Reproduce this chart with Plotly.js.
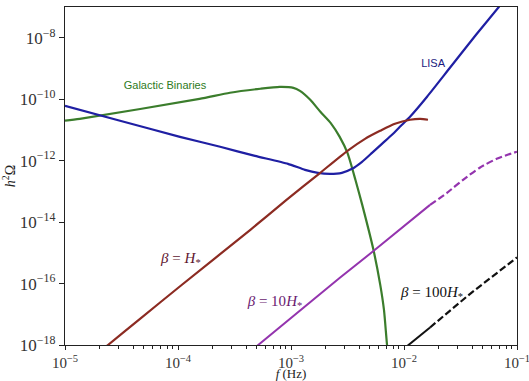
<!DOCTYPE html>
<html>
<head>
<meta charset="utf-8">
<script src="https://cdn.plot.ly/plotly-3.0.1.min.js"></script>
<style>html,body{margin:0;padding:0;background:#fff;}#chart{width:529px;height:381px;}</style>
</head>
<body>
<div id="chart"></div>
<script>
// Galactic binaries foreground
const gbF = [1.0e-5, 1.35e-5, 1.55e-4, 2.88e-4, 5.37e-4, 7.94e-4, 1.05e-3, 1.20e-3, 1.48e-3, 1.82e-3, 2.24e-3, 2.69e-3, 3.16e-3, 3.72e-3, 4.27e-3, 5.37e-3, 6.17e-3, 6.65e-3, 7.08e-3, 7.41e-3];
const gbO = [2.0e-11, 2.29e-11, 1.02e-10, 1.62e-10, 2.19e-10, 2.51e-10, 2.34e-10, 1.86e-10, 9.55e-11, 3.89e-11, 1.70e-11, 6.03e-12, 1.78e-12, 2.34e-13, 3.63e-14, 1.23e-15, 8.9e-17, 1.38e-17, 1.0e-18, 2.5e-19];
// LISA sensitivity
const lisaF = [1.0e-5, 3.07e-5, 1.04e-4, 2.36e-4, 4.80e-4, 9.40e-4, 1.33e-3, 1.73e-3, 2.21e-3, 2.82e-3, 3.47e-3, 4.25e-3, 5.21e-3, 6.38e-3, 7.83e-3, 9.40e-3, 1.13e-2, 1.60e-2, 2.55e-2, 4.34e-2, 6.93e-2, 8.67e-2];
const lisaO = [6.10e-11, 1.98e-11, 5.96e-12, 2.82e-12, 1.43e-12, 7.87e-13, 5.01e-13, 4.01e-13, 3.72e-13, 4.01e-13, 5.41e-13, 9.14e-13, 1.79e-12, 3.52e-12, 6.92e-12, 1.36e-11, 2.67e-11, 1.20e-10, 1.05e-9, 1.25e-8, 1.02e-7, 2.92e-7];
// beta = H*
const b1F = [2.0e-5, 2.40e-5, 4.47e-5, 1.05e-4, 4.37e-4, 9.12e-4, 1.78e-3, 3.16e-3, 4.52e-3, 6.14e-3, 8.32e-3, 1.13e-2, 1.39e-2, 1.63e-2];
const b1O = [5.75e-19, 1.0e-18, 6.46e-18, 8.32e-17, 5.62e-15, 5.25e-14, 3.80e-13, 2.09e-12, 5.13e-12, 9.33e-12, 1.585e-11, 2.14e-11, 2.29e-11, 2.14e-11];
// beta = 10 H*  (solid part, then dashed part)
const b10F = [4.47e-4, 5.13e-4, 9.33e-4, 2.69e-3, 5.50e-3, 9.12e-3, 1.70e-2];
const b10O = [6.6e-19, 1.0e-18, 6.46e-18, 1.51e-16, 1.23e-15, 5.62e-15, 3.63e-14];
const b10dF = [1.70e-2, 2.40e-2, 3.31e-2, 4.68e-2, 6.61e-2, 8.71e-2, 1.0e-1];
const b10dO = [3.63e-14, 8.91e-14, 2.34e-13, 5.89e-13, 1.15e-12, 1.66e-12, 1.95e-12];
// beta = 100 H*
const b100F = [1.0e-2, 1.10e-2, 1.70e-2];
const b100O = [7.6e-19, 1.0e-18, 3.72e-18];
const b100dF = [1.70e-2, 3.80e-2, 1.0e-1];
const b100dO = [3.72e-18, 4.47e-17, 7.08e-16];

// axis ticks
const xTicks = [1e-5, 1e-4, 1e-3, 1e-2, 1e-1];
const xTickText = ['10<sup>−5</sup>', '10<sup>−4</sup>', '10<sup>−3</sup>', '10<sup>−2</sup>', '10<sup>−1</sup>'];
const yTicks = [1e-18, 1e-16, 1e-14, 1e-12, 1e-10, 1e-8];
const yTickText = ['10<sup>−18</sup>', '10<sup>−16</sup>', '10<sup>−14</sup>', '10<sup>−12</sup>', '10<sup>−10</sup>', '10<sup>−8</sup>'];

// curve labels
const labelText = ['Galactic Binaries', 'LISA', '<i>β</i> = <i>H</i><sub>*</sub>', '<i>β</i> = 10<i>H</i><sub>*</sub>', '<i>β</i> = 100<i>H</i><sub>*</sub>'];

const cGreen = '#3b7d2c', cBlue = '#1f1fa3', cRed = '#8c2b22', cPurple = '#9434ae';
const serif = 'Liberation Serif, DejaVu Serif, serif';
const sans = 'Liberation Sans, Arial, sans-serif';

// label placement (position config, not data)
const labelPos = [
  {x: 7.67e-5, y: 2.73e-10, font: {family: sans, size: 11, color: '#2e7a22'}},
  {x: 1.81e-2, y: 1.42e-9, font: {family: sans, size: 11, color: '#1a1a80'}},
  {x: 1.06e-4, y: 6.3e-16, font: {family: serif, size: 15, color: '#5e1530'}},
  {x: 7.21e-4, y: 2.51e-17, font: {family: serif, size: 15, color: '#6a1a70'}},
  {x: 1.77e-2, y: 4.9e-17, font: {family: serif, size: 15, color: '#111111'}}
];

const traces = [
  {x: gbF, y: gbO, mode: 'lines', line: {color: cGreen, width: 2.2, shape: 'spline', smoothing: 0.6}},
  {x: lisaF, y: lisaO, mode: 'lines', line: {color: cBlue, width: 2.2, shape: 'spline', smoothing: 0.5}},
  {x: b1F, y: b1O, mode: 'lines', line: {color: cRed, width: 2.2, shape: 'spline', smoothing: 0.7}},
  {x: b10F, y: b10O, mode: 'lines', line: {color: cPurple, width: 2}},
  {x: b10dF, y: b10dO, mode: 'lines', line: {color: cPurple, width: 2.2, dash: '7px,3px', shape: 'spline', smoothing: 0.6}},
  {x: b100F, y: b100O, mode: 'lines', line: {color: '#111111', width: 2}},
  {x: b100dF, y: b100dO, mode: 'lines', line: {color: '#111111', width: 2.2, dash: '7px,3px'}}
];
labelText.forEach(function (t, i) {
  traces.push({x: [labelPos[i].x], y: [labelPos[i].y], mode: 'text', text: [t],
    textposition: 'middle center', textfont: labelPos[i].font, cliponaxis: false, hoverinfo: 'skip'});
});

const axisCommon = {
  type: 'log', showline: true, linecolor: '#222', linewidth: 1.2, mirror: true,
  ticks: 'outside', ticklen: 5, tickwidth: 1, tickcolor: '#222',
  showgrid: false, zeroline: false, tickmode: 'array', ticklabeloverflow: 'allow',
  tickfont: {family: serif, size: 17, color: '#333'}
};

const layout = {
  width: 529, height: 381,
  margin: {l: 65, r: 12, t: 7, b: 36},
  paper_bgcolor: '#fff', plot_bgcolor: '#fff',
  showlegend: false,
  xaxis: Object.assign({}, axisCommon, {
    range: [-5, -1], tickvals: xTicks, ticktext: xTickText, ticklen: 4,
    tickfont: {family: serif, size: 15, color: '#333'},
    minor: {ticks: 'outside', ticklen: 2.5, tickcolor: '#222', dtick: 'D1', showgrid: false},
    title: {text: '<i>f</i> (Hz)', font: {family: serif, size: 13, color: '#222'}, standoff: 0}
  }),
  yaxis: Object.assign({}, axisCommon, {
    range: [-18, -7], tickvals: yTicks, ticktext: yTickText,
    title: {text: '<i>h</i><sup>2</sup>Ω', font: {family: serif, size: 14, color: '#222'}, standoff: 3}
  })
};

Plotly.newPlot('chart', traces, layout, {displayModeBar: false, staticPlot: true});
</script>
</body>
</html>
